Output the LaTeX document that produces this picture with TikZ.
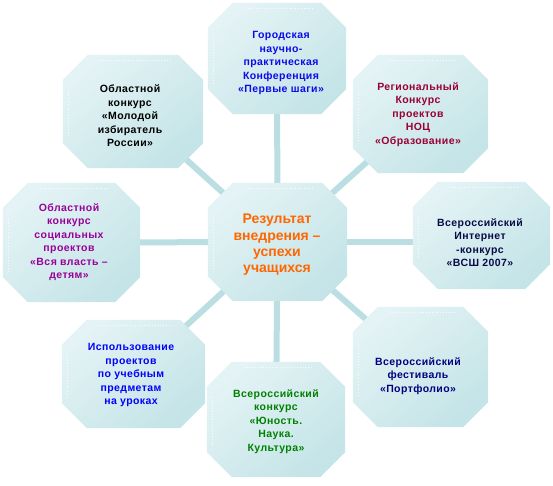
\documentclass[tikz,border=0pt]{standalone}
\usepackage{fontspec}
\setmainfont[LetterSpace=4]{Liberation Sans}
\newfontfamily\bigfont{Liberation Sans}
\definecolor{octA}{RGB}{228,243,245}
\definecolor{octB}{RGB}{196,228,231}
\definecolor{connc}{RGB}{186,222,226}
\definecolor{cT}{RGB}{10,10,235}
\definecolor{cTR}{RGB}{153,0,51}
\definecolor{cTL}{RGB}{0,0,0}
\definecolor{cL}{RGB}{153,0,153}
\definecolor{cC}{RGB}{255,102,0}
\definecolor{cR}{RGB}{10,10,70}
\definecolor{cBL}{RGB}{0,0,255}
\definecolor{cB}{RGB}{0,128,0}
\definecolor{cBR}{RGB}{0,0,128}
\newcommand\chamfsz{25pt}
\tikzset{
  slot/.style args={#1x#2}{draw=none, inner sep=0pt, minimum width=#1pt, minimum height=#2pt},
  octfill/.style={top color=octA, bottom color=octB, shading angle=40},
  hl/.style={white, line width=0.8pt, dotted, opacity=0.9},
  conn/.style={connc, line width=6pt},
  lbl/.style={align=center, inner sep=0pt, font=\bfseries\fontsize{10.5}{13.5}\selectfont},
  biglbl/.style={align=center, inner sep=0pt, font=\bigfont\bfseries\fontsize{14}{16.3}\selectfont}
}
\newcommand\octo[1]{%
  \shade[octfill] ([xshift=\chamfsz]#1.north west) -- ([xshift=-\chamfsz]#1.north east)
    -- ([yshift=-\chamfsz]#1.north east) -- ([yshift=\chamfsz]#1.south east)
    -- ([xshift=-\chamfsz]#1.south east) -- ([xshift=\chamfsz]#1.south west)
    -- ([yshift=\chamfsz]#1.south west) -- ([yshift=-\chamfsz]#1.north west) -- cycle;
  \draw[hl] ([xshift=\chamfsz+12pt, yshift=-6pt]#1.north west) -- ([xshift=-\chamfsz-8pt, yshift=-6pt]#1.north east);
  \draw[hl] ([xshift=6pt, yshift=-\chamfsz-10pt]#1.north west) -- ([xshift=6pt, yshift=\chamfsz+6pt]#1.south west);
}
\begin{document}
\begin{tikzpicture}[x=1pt, y=-1pt]
\useasboundingbox (0,0) rectangle (553,485);
% octagon slots
\node[slot=138x111] (T)  at (277,58.5) {};
\node[slot=135x118] (TR) at (420.5,114) {};
\node[slot=140x113] (TL) at (133,111.5) {};
\node[slot=137x119] (L)  at (71.5,242.5) {};
\node[slot=139x118] (C)  at (277.5,242) {};
\node[slot=137x107] (R)  at (481.5,235.5) {};
\node[slot=143x108] (BL) at (133.5,374) {};
\node[slot=138x115] (B)  at (276,419.5) {};
\node[slot=135x120] (BR) at (420.5,367) {};
% connectors
\draw[conn] (C.center) -- (T.center);
\draw[conn] (C.center) -- (TR.center);
\draw[conn] (C.center) -- (TL.center);
\draw[conn] (C.center) -- (L.center);
\draw[conn] (C.center) -- (C.center -| R.center);
\draw[conn] (C.center) -- (BL.center);
\draw[conn] (C.center) -- (B.center);
\draw[conn] (C.center) -- (BR.center);
% octagons
\octo{T}\octo{TR}\octo{TL}\octo{L}\octo{C}\octo{R}\octo{BL}\octo{B}\octo{BR}
% labels
\node[lbl, text=cT] (Tt) at (281,63) {Городская\\научно-\\практическая\\Конференция\\«Первые шаги»};
\node[lbl, text=cTR] (TRt) at (418,114.5) {Региональный\\Конкурс\\проектов\\НОЦ\\«Образование»};
\node[lbl, text=cTL] (TLt) at (130,116) {Областной\\конкурс\\«Молодой\\избиратель\\России»};
\node[lbl, text=cL] (Lt) at (69,242) {Областной\\конкурс\\социальных\\проектов\\«Вся власть –\\детям»};
\node[biglbl, text=cC] (Ct) at (277,245) {Результат\\внедрения –\\успехи\\учащихся};
\node[lbl, text=cR] (Rt) at (480,242.5) {Всероссийский\\Интернет\\-конкурс\\«ВСШ 2007»};
\node[lbl, text=cBL] (BLt) at (131,375) {Использование\\проектов\\по учебным\\предметам\\на уроках};
\node[lbl, text=cB] (Bt) at (276,421.5) {Всероссийский\\конкурс\\«Юность.\\Наука.\\Культура»};
\node[lbl, text=cBR] (BRt) at (418,376) {Всероссийский\\фестиваль\\«Портфолио»};
\end{tikzpicture}
\end{document}
